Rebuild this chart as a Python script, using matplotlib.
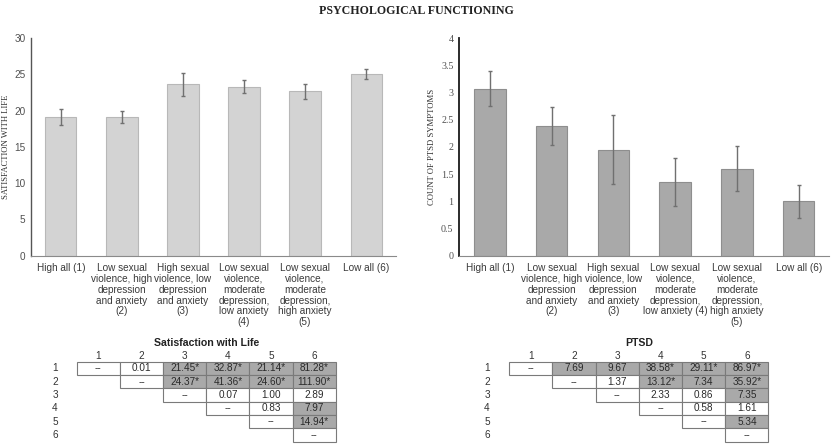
import matplotlib
matplotlib.use('Agg')
import matplotlib.pyplot as plt
from matplotlib.patches import Rectangle
import numpy as np

# bar data
categories_left = ['High all (1)', 'Low sexual\nviolence, high\ndepression\nand anxiety\n(2)',
                   'High sexual\nviolence, low\ndepression\nand anxiety\n(3)',
                   'Low sexual\nviolence,\nmoderate\ndepression,\nlow anxiety\n(4)',
                   'Low sexual\nviolence,\nmoderate\ndepression,\nhigh anxiety\n(5)', 'Low all (6)']
categories_right = ['High all (1)', 'Low sexual\nviolence, high\ndepression\nand anxiety\n(2)',
                    'High sexual\nviolence, low\ndepression\nand anxiety\n(3)',
                    'Low sexual\nviolence,\nmoderate\ndepression,\nlow anxiety (4)',
                    'Low sexual\nviolence,\nmoderate\ndepression,\nhigh anxiety\n(5)', 'Low all (6)']
swl_mean = [19.1, 19.15, 23.6, 23.3, 22.65, 25.05]
swl_err = [1.1, 0.85, 1.6, 0.9, 1.05, 0.7]
ptsd_mean = [3.07, 2.38, 1.95, 1.35, 1.60, 1.00]
ptsd_err = [0.32, 0.35, 0.63, 0.44, 0.42, 0.30]

# pairwise tables (upper triangle, row i starts at column i)
swl_table = [['--', '0.01', '21.45*', '32.87*', '21.14*', '81.28*'],
             ['--', '24.37*', '41.36*', '24.60*', '111.90*'],
             ['--', '0.07', '1.00', '2.89'],
             ['--', '0.83', '7.97'],
             ['--', '14.94*'],
             ['--']]
swl_shade = [[0, 0, 1, 1, 1, 1],
             [0, 1, 1, 1, 1],
             [0, 0, 0, 0],
             [0, 0, 1],
             [0, 1],
             [0]]
ptsd_table = [['--', '7.69', '9.67', '38.58*', '29.11*', '86.97*'],
              ['--', '1.37', '13.12*', '7.34', '35.92*'],
              ['--', '2.33', '0.86', '7.35'],
              ['--', '0.58', '1.61'],
              ['--', '5.34'],
              ['--']]
ptsd_shade = [[0, 1, 1, 1, 1, 1],
              [0, 0, 1, 1, 1],
              [0, 0, 0, 1],
              [0, 0, 0],
              [0, 1],
              [0]]
col_labels = ['1', '2', '3', '4', '5', '6']

W, H = 833, 444
fig = plt.figure(figsize=(W / 100, H / 100), dpi=100)

sans = 'Liberation Sans'
serif = 'Liberation Serif'


def bar_panel(rect, means, errs, cats, ylim, ystep, face, edge, tickfont, ylabel, xlim, labx):
    ax = fig.add_axes(rect)
    x = np.arange(len(means))
    ax.bar(x, means, width=0.51, color=face, edgecolor=edge, linewidth=0.8, zorder=2)
    ax.errorbar(x, means, yerr=errs, fmt='none', ecolor='#707070', elinewidth=1.0,
                capsize=1.6, capthick=1.0, zorder=3)
    ax.set_xlim(*xlim)
    ax.set_ylim(*ylim)
    ax.set_yticks(np.arange(ylim[0], ylim[1] + 1e-9, ystep))
    ax.yaxis.set_major_formatter(matplotlib.ticker.FuncFormatter(lambda v, p: f'{v:g}'))
    ax.set_xticks(x)
    ax.set_xticklabels(cats, fontsize=7.2, family=sans, color='#3a3a3a', linespacing=1.12)
    for lab in ax.get_yticklabels():
        lab.set_fontfamily(tickfont)
        lab.set_fontsize(7.2)
        lab.set_color('#505050')
    ax.tick_params(length=0, pad=4)
    ax.tick_params(axis='x', pad=5)
    for s in ['top', 'right']:
        ax.spines[s].set_visible(False)
    ax.spines['bottom'].set_color('#8a8a8a')
    ax.set_ylabel(ylabel, family=serif, fontsize=6.2, color='#303030')
    ax.yaxis.set_label_coords(labx, 0.5)
    return ax


axL = bar_panel([31 / W, 1 - 255.7 / H, 365 / W, 217.7 / H], swl_mean, swl_err, categories_left,
                (0, 30), 5, '#d3d3d3', '#b8b8b8', sans, 'SATISFACTION WITH LIFE', (-0.49, 5.49),
                -0.057)
axL.spines['left'].set_color('#555555')
axL.spines['left'].set_linewidth(1.0)

axR = bar_panel([459 / W, 1 - 255.7 / H, 370 / W, 217.7 / H], ptsd_mean, ptsd_err, categories_right,
                (0, 4), 0.5, '#a9a9a9', '#8e8e8e', serif, 'COUNT OF PTSD SYMPTOMS', (-0.5, 5.49),
                -0.062)
axR.spines['left'].set_color('#1a1a1a')
axR.spines['left'].set_linewidth(1.3)

fig.text(0.5, 1 - 11 / H, 'PSYCHOLOGICAL FUNCTIONING', ha='center', va='center',
         family=serif, fontweight='bold', fontsize=8.6, color='#222222')

# overlay in pixel coordinates for the tables
ov = fig.add_axes([0, 0, 1, 1])
ov.set_xlim(0, W)
ov.set_ylim(H, 0)
ov.axis('off')


def draw_table(title, data, shade, x0, cw, label_x, title_y, head_y, top, rh):
    ncol = len(col_labels)
    ov.text(x0 + cw * ncol / 2, title_y, title, ha='center', va='center', family=sans,
            fontweight='bold', fontsize=7.6, color='#222222')
    for j, c in enumerate(col_labels):
        ov.text(x0 + cw * (j + 0.5), head_y, c, ha='center', va='center', family=sans,
                fontsize=7.2, color='#333333')
    for i, row in enumerate(data):
        yc = top + rh * (i + 0.5)
        ov.text(label_x, yc, col_labels[i], ha='center', va='center', family=sans,
                fontsize=7.2, color='#333333')
        for k, val in enumerate(row):
            j = i + k
            fc = '#a9a9a9' if shade[i][k] else 'white'
            ov.add_patch(Rectangle((x0 + cw * j, top + rh * i), cw, rh, facecolor=fc,
                                   edgecolor='#7a7a7a', linewidth=0.8))
            ov.text(x0 + cw * (j + 0.5), yc, val, ha='center', va='center', family=sans,
                    fontsize=7.2, color='#2a2a2a')


draw_table('Satisfaction with Life', swl_table, swl_shade, 76.7, 43.2, 55, 343, 356, 361.7, 13.3)
draw_table('PTSD', ptsd_table, ptsd_shade, 509.3, 43.2, 487, 343, 356, 361.7, 13.3)

fig.savefig('out.png', dpi=100)
